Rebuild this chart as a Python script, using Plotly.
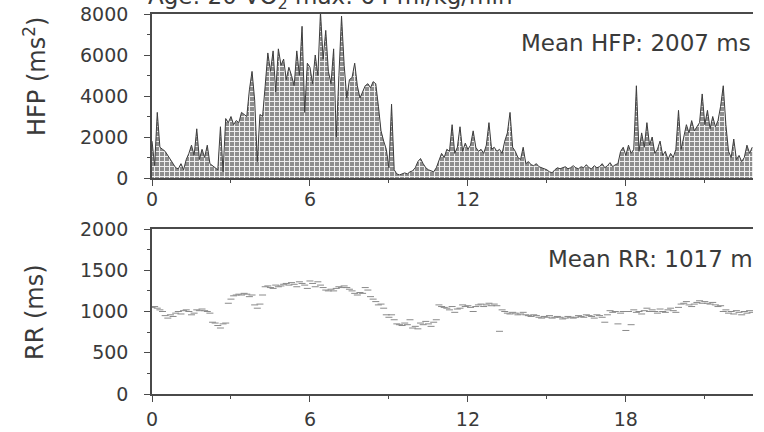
import numpy as np
import plotly.graph_objects as go

# High-frequency power (ms^2), one value every 0.1 h
hfp = [
    1800, 600, 3200, 1500, 1400, 1300, 1100, 900, 700, 500,
    450, 700, 400, 900, 1200, 1600, 1100, 2400, 900, 1400,
    1000, 1600, 700, 600, 500, 400, 2500, 300, 2900, 2700,
    3000, 2600, 2800, 2700, 3200, 3100, 3000, 4300, 5200, 3800,
    800, 3100, 3000, 4500, 6100, 5200, 6200, 4200, 6300, 5500,
    5800, 4800, 5400, 5000, 4500, 6200, 5000, 7400, 3200, 5600,
    5400, 4600, 6000, 5000, 8100, 5800, 7200, 5200, 4600, 6300,
    2000, 5000, 7900, 5500, 3900, 4800, 4900, 5600, 4500, 3900,
    4200, 4500, 4600, 4400, 4700, 4600, 3500, 2300, 1800, 1400,
    500, 3600, 400, 200, 150, 200, 250, 200, 300, 350,
    500, 800, 950, 700, 500, 400, 350, 300, 500, 900,
    1200, 1000, 1400, 1300, 2600, 1200, 1500, 2500, 1300, 1700,
    1400, 1600, 2300, 1500, 1300, 1400, 1200, 1600, 2700, 1400,
    1500, 1300, 1400, 1200, 1800, 2200, 3200, 1500, 1300, 1000,
    900, 1500, 700, 800, 650, 600, 700, 550, 500, 450,
    400, 300, 250, 400, 500, 450, 500, 550, 450, 500,
    600, 500, 450, 550, 500, 650, 500, 450, 600, 500,
    550, 700, 500, 600, 750, 550, 650, 700, 1300, 1500,
    1100, 1600, 1200, 1400, 4500, 1300, 2200, 1500, 2700, 1600,
    2000, 1200, 1400, 1800, 1100, 1300, 900, 1200, 1000, 1400,
    3300, 1400, 2000, 2600, 2200, 2800, 2300, 2500, 2700, 4100,
    2600, 3300, 2400, 3000, 2500, 2800, 3500, 4500, 2600, 1300,
    1000, 1900, 900, 1100, 800, 1000, 1600, 1200, 1500,
]

# RR interval (ms), one value every 0.1 h
rr = [
    1050, 1060, 1040, 1020, 1000, 950, 920, 960, 940, 980,
    1000, 970, 1010, 1020, 1000, 960, 980, 1020, 1010, 1030,
    1010, 1000, 980, 870, 860, 830, 800, 850, 860, 1100,
    1150, 1190, 1200, 1210, 1200, 1220, 1210, 1180, 1200, 1080,
    1040, 1090, 1200, 1300, 1310, 1290, 1280, 1320, 1300, 1310,
    1330, 1340, 1320, 1350, 1330, 1300, 1360, 1340, 1320, 1280,
    1370, 1340, 1300, 1360, 1320, 1290, 1260, 1250, 1270, 1250,
    1280, 1300, 1290, 1310, 1290, 1270, 1250, 1220, 1200, 1230,
    1220, 1290, 1260, 1180, 1150, 1120, 1080, 1090, 1040, 960,
    930, 960, 900, 850, 840, 830, 860, 840, 900, 800,
    820, 790, 860, 840, 880, 850, 820, 870, 900, 1080,
    1060, 1050, 1040, 1020, 1060, 990, 1030, 1040, 1080, 1060,
    1070, 1050, 1000, 1060, 1080, 1090, 1060, 1080, 1100, 1070,
    1090, 1070, 760, 1020, 1000, 980, 970, 990, 980, 960,
    970, 990, 960, 950, 940, 960, 950, 930, 920, 940,
    930, 950, 920, 930, 940, 930, 910, 920, 940, 930,
    920, 930, 950, 940, 930, 960, 950, 940, 920, 960,
    950, 930, 870, 960, 1010, 990, 1000, 850, 980, 1000,
    770, 1000, 840, 1020, 990, 1000, 970, 1010, 1040, 1000,
    1020, 1000, 980, 1030, 1000, 990, 1020, 1040, 1010, 990,
    1050, 1090, 1100, 1120, 1080, 1060, 1090, 1110, 1130, 1100,
    1120, 1100, 1090, 1110, 1080, 1060, 1070, 1000, 1020, 980,
    1000, 970, 1010, 990, 960, 1000, 980, 1010, 990,
]

hours_hfp = np.round(np.arange(len(hfp)) * 0.1, 1)
hours_rr = np.round(np.arange(len(rr)) * 0.1, 1)

title_text = "Age: 20 VO<sub>2</sub> max: 64 ml/kg/min"
hfp_label = "Mean HFP: 2007 ms"
rr_label = "Mean RR: 1017 m"

W, H = 764, 432
FONT = "DejaVu Sans"
INK = "#3a3a3a"
AX = "#4a4a4a"


def px_x(p):
    return p / W


def px_y(p):
    return (H - p) / H


fig = go.Figure()

fig.add_trace(go.Scatter(
    x=hours_hfp, y=hfp, mode="lines",
    line=dict(color="#3c3c3c", width=1),
    fill="tozeroy",
    fillpattern=dict(shape="+", size=5, solidity=0.35,
                     fgcolor="#f2f2f2", bgcolor="#8e8e8e", fillmode="replace"),
    xaxis="x", yaxis="y", showlegend=False,
))

fig.add_trace(go.Scatter(
    x=hours_rr, y=rr, mode="markers",
    marker=dict(symbol="line-ew", size=5, line=dict(color="#8a8a8a", width=1)),
    xaxis="x2", yaxis="y2", showlegend=False,
))

xdom = [px_x(152), px_x(753)]
common_x = dict(
    domain=xdom, range=[0, 22.83], dtick=6, tick0=0,
    ticks="outside", ticklen=6, tickwidth=1.2, tickcolor=AX,
    minor=dict(dtick=3, ticks="outside", ticklen=3, tickcolor=AX, tickwidth=1),
    showline=True, linecolor=AX, linewidth=1.6, mirror=True,
    showgrid=False, zeroline=False, automargin=False,
    tickfont=dict(family=FONT, size=19, color=INK),
)
common_y = dict(
    ticks="outside", ticklen=6, tickwidth=1.2, tickcolor=AX,
    showline=True, linecolor=AX, linewidth=1.6,
    showgrid=False, zeroline=False, automargin=False,
    tickfont=dict(family=FONT, size=19, color=INK),
    ticklabelstandoff=12,
)

fig.update_layout(
    template="none",
    width=W, height=H,
    margin=dict(l=0, r=0, t=0, b=0, pad=0),
    paper_bgcolor="white", plot_bgcolor="white",
    xaxis=dict(**common_x, anchor="y", ticklabelstandoff=-3),
    yaxis=dict(**common_y, anchor="x", domain=[px_y(178), px_y(14)],
               range=[0, 8000], dtick=2000,
               minor=dict(dtick=1000, ticks="outside", ticklen=3, tickcolor=AX, tickwidth=1)),
    xaxis2=dict(**common_x, anchor="y2", ticklabelstandoff=1),
    yaxis2=dict(**common_y, anchor="x2", domain=[px_y(394), px_y(229)],
                range=[0, 2000], dtick=500,
                minor=dict(dtick=250, ticks="outside", ticklen=3, tickcolor=AX, tickwidth=1)),
    annotations=[
        dict(text=title_text, xref="paper", yref="paper", x=px_x(146), y=px_y(15),
             xanchor="left", yanchor="bottom", showarrow=False,
             font=dict(family=FONT, size=23, color=INK)),
        dict(text="HFP (ms<sup>2</sup>)", xref="paper", yref="paper",
             x=px_x(35), y=px_y(77), textangle=-90, xanchor="center", yanchor="middle",
             showarrow=False, font=dict(family=FONT, size=24, color=INK)),
        dict(text="RR (ms)", xref="paper", yref="paper",
             x=px_x(35), y=px_y(312), textangle=-90, xanchor="center", yanchor="middle",
             showarrow=False, font=dict(family=FONT, size=24, color=INK)),
        dict(text=hfp_label, xref="paper", yref="paper", x=px_x(753), y=px_y(43),
             xanchor="right", yanchor="middle", showarrow=False,
             font=dict(family=FONT, size=23, color=INK)),
        dict(text=rr_label, xref="paper", yref="paper", x=px_x(755), y=px_y(259),
             xanchor="right", yanchor="middle", showarrow=False,
             font=dict(family=FONT, size=23, color=INK)),
    ],
)

fig.write_html("out.html")
